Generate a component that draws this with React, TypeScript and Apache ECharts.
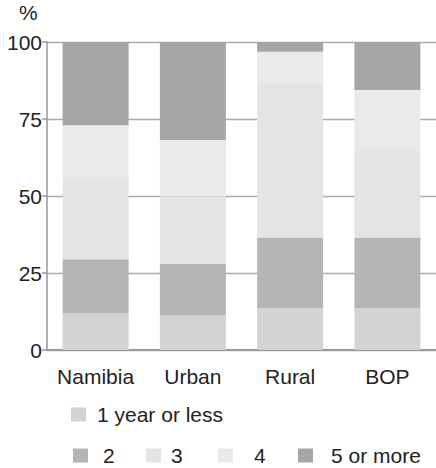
import React, { useEffect, useRef } from "react";
import * as echarts from "echarts";

const categories = ["Namibia", "Urban", "Rural", "BOP"];
const seriesNames = ["1 year or less", "2", "3", "4", "5 or more"];
const oneYearOrLess = [12.0, 11.4, 13.6, 13.6];
const two = [17.5, 16.5, 22.9, 22.9];
const three = [26.3, 21.9, 49.9, 28.1];
const four = [17.2, 18.4, 10.4, 19.8];
const fiveOrMore = [27.0, 31.8, 3.2, 15.6];
const seriesValues = [oneYearOrLess, two, three, four, fiveOrMore];
const yTicks = [0, 25, 50, 75, 100];

const colors = ["#d3d3d3", "#b5b5b5", "#e4e4e4", "#eaeaea", "#a6a6a6"];
// legend layout: [left, top, text offset]
const legendLayout = [
  [71, 404, 11],
  [73, 445, 15],
  [146, 445, 10],
  [218, 445, 21],
  [298, 445, 18],
];

const FONT = "Liberation Sans, Arial, sans-serif";

export default function App() {
  const ref = useRef<HTMLDivElement>(null);
  useEffect(() => {
    if (!ref.current) return;
    const chart = echarts.init(ref.current, null, { renderer: "svg" });
    chart.setOption({
      animation: false,
      color: colors,
      textStyle: { fontFamily: FONT },
      grid: { left: 47, top: 42, bottom: 118, right: -3, containLabel: false },
      title: {
        text: "%",
        left: 19,
        top: 2,
        padding: 0,
        textStyle: { fontFamily: FONT, fontSize: 21, fontWeight: "normal", color: "#222" },
      },
      legend: seriesNames.map((name, i) => ({
        data: [name],
        left: legendLayout[i][0],
        top: legendLayout[i][1],
        padding: 0,
        icon: "rect",
        itemWidth: 15,
        itemHeight: 14,
        selectedMode: false,
        textStyle: {
          fontFamily: FONT,
          fontSize: 21,
          color: "#222",
          padding: [0, 0, 0, legendLayout[i][2] - 5],
        },
      })),
      xAxis: {
        type: "category",
        data: categories,
        axisLine: { show: true, lineStyle: { color: "#999", width: 2 } },
        axisTick: { show: false },
        axisLabel: { fontFamily: FONT, fontSize: 21, color: "#222", margin: 16, interval: 0 },
      },
      yAxis: {
        type: "value",
        min: yTicks[0],
        max: yTicks[yTicks.length - 1],
        interval: 25,
        axisLine: { show: true, lineStyle: { color: "#999", width: 1.5 } },
        axisTick: { show: true, length: 5, lineStyle: { color: "#999", width: 1.5 } },
        splitLine: { show: true, lineStyle: { color: "#aaa", width: 1.3 } },
        axisLabel: { fontFamily: FONT, fontSize: 21, color: "#222", margin: 5 },
      },
      series: seriesNames.map((name, i) => ({
        name,
        type: "bar",
        stack: "total",
        barWidth: 66,
        data: seriesValues[i],
        itemStyle: { color: colors[i] },
      })),
    });
    return () => chart.dispose();
  }, []);
  return <div ref={ref} style={{ width: 436, height: 468, position: "absolute", left: 0, top: 0 }} />;
}
